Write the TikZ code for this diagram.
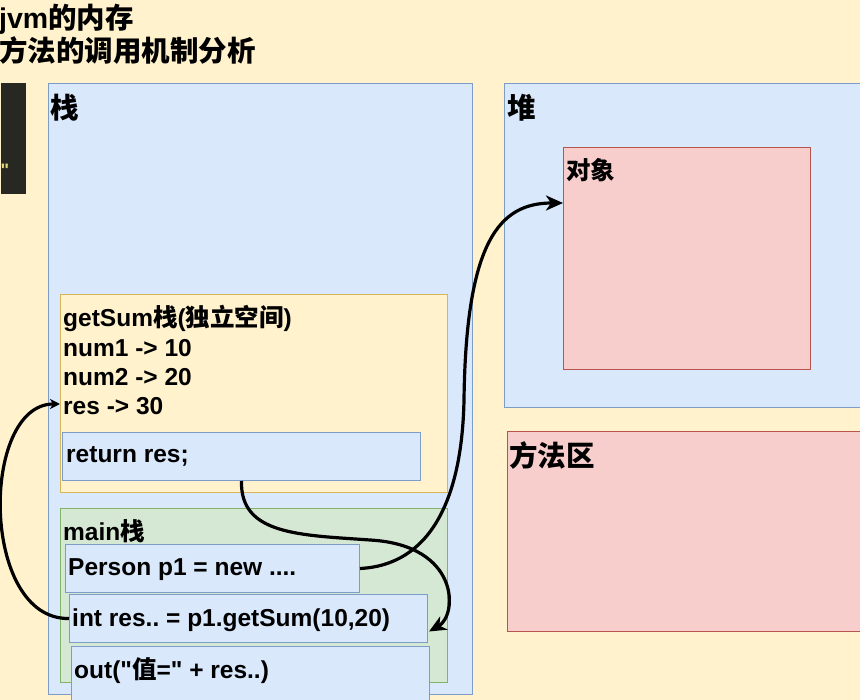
\documentclass[tikz,border=0pt]{standalone}
\usepackage{fontspec}
\setmainfont{Liberation Sans}
\newfontfamily\cjk{Noto Sans CJK SC}
\usetikzlibrary{arrows.meta,calc}
\newcommand{\zh}[1]{{\cjk #1}}
\definecolor{bgY}{HTML}{FFF2CC}
\definecolor{blueF}{HTML}{DAE8FC}
\definecolor{blueD}{HTML}{7E9CC8}
\definecolor{yelF}{HTML}{FFF2CC}
\definecolor{yelD}{HTML}{D6B656}
\definecolor{grnF}{HTML}{D5E8D4}
\definecolor{grnD}{HTML}{82B366}
\definecolor{redF}{HTML}{F8CECC}
\definecolor{redD}{HTML}{B85450}
\definecolor{codeBg}{HTML}{272822}
\definecolor{codeStr}{HTML}{E6DB74}
\frenchspacing
\begin{document}
\begin{tikzpicture}[x=1pt,y=-1pt,
  box/.style={draw, line width=1pt, inner sep=0pt, anchor=north west},
  bluebox/.style={box, fill=blueF, draw=blueD},
  yelbox/.style={box, fill=yelF, draw=yelD},
  grnbox/.style={box, fill=grnF, draw=grnD},
  redbox/.style={box, fill=redF, draw=redD},
  txt/.style={anchor=base west, inner sep=0pt, font=\bfseries\fontsize{24.5}{29}\selectfont},
  big/.style={anchor=base west, inner sep=0pt, font=\bfseries\fontsize{28.5}{34}\selectfont},
  conn/.style={line width=3.2pt, -{Stealth[length=17pt,width=15pt,inset=5pt]}},
  smallconn/.style={line width=3.2pt, -{Stealth[length=10pt,width=10pt,inset=3pt]}}
]
\useasboundingbox (0,0) rectangle (860,700);
\clip (0,0) rectangle (860,700);
\fill[bgY] (0,0) rectangle (860,700);

% code editor fragment
\node[box, draw=none, fill=codeBg, minimum width=25pt, minimum height=111pt] (code) at (0,83) {};
\node[anchor=base west, inner sep=0pt, text=codeStr, font=\bfseries\fontsize{18}{20}\selectfont] (codeq) at (0.5,177) {\textquotedbl};

% title
\node[big] (t1) at (-1,29) {jvm\zh{的内存}};
\node[big] (t2) at (-1,62) {\zh{方法的调用机制分析}};

% main areas
\node[bluebox, minimum width=424pt, minimum height=611pt] (stack) at (48,83) {};
\node[bluebox, minimum width=370pt, minimum height=324pt] (heap) at (504,83) {};
\node[redbox, minimum width=247pt, minimum height=222pt] (obj) at (563,147) {};
\node[redbox, minimum width=360pt, minimum height=200pt] (method) at (507,431) {};

\node[big] (stackL) at (50,119) {\zh{栈}};
\node[big] (heapL) at (507,119) {\zh{堆}};
\node[txt] (objL) at (566,180) {\zh{对象}};
\node[big] (methodL) at (509,467) {\zh{方法区}};

% getSum frame
\node[yelbox, minimum width=387pt, minimum height=198pt] (getsum) at (60,294) {};
\node[txt] (gs1) at (63,327) {getSum\zh{栈}(\zh{独立空间})};
\node[txt] (gs2) at (63,357) {num1 -> 10};
\node[txt] (gs3) at (63,386) {num2 -> 20};
\node[txt] (gs4) at (63,415) {res -> 30};
\node[bluebox, minimum width=358pt, minimum height=48pt] (ret) at (62,432) {};
\node[txt] (retL) at (66,463) {return res;};

% main frame
\node[grnbox, minimum width=387pt, minimum height=174pt] (mainf) at (60,508) {};
\node[txt] (mainL) at (63,540) {main\zh{栈}};
\node[bluebox, minimum width=294pt, minimum height=48pt] (person) at (65,544) {};
\node[txt] (personL) at (68,575) {Person p1 = new ....};
\node[bluebox, minimum width=358pt, minimum height=48pt] (intres) at (69,594) {};
\node[txt] (intresL) at (72,626) {int res.. = p1.getSum(10,20)};
\node[bluebox, minimum width=358pt, minimum height=60pt] (outb) at (71,646) {};
\node[txt] (outL) at (74,678) {out(\textquotedbl\zh{值}=\textquotedbl{} + res..)};

% connectors
\coordinate (resin) at ($(getsum.north west)+(0,110)$);
\draw[smallconn] (intres.west) .. controls (-20,620) and (-20,404) .. (resin);

\coordinate (objin) at ($(obj.north west)+(0,56)$);
\draw[conn] (person.east) .. controls (430,565) and (462,500) .. (464,400)
  .. controls (466,240) and (500,203) .. (objin);

\coordinate (retin) at ($(intres.east)+(1,13)$);
\draw[conn] (ret.south) .. controls (240,535) and (300,535) .. (370,540)
  .. controls (460,545) and (458,615) .. (retin);
\end{tikzpicture}
\end{document}
